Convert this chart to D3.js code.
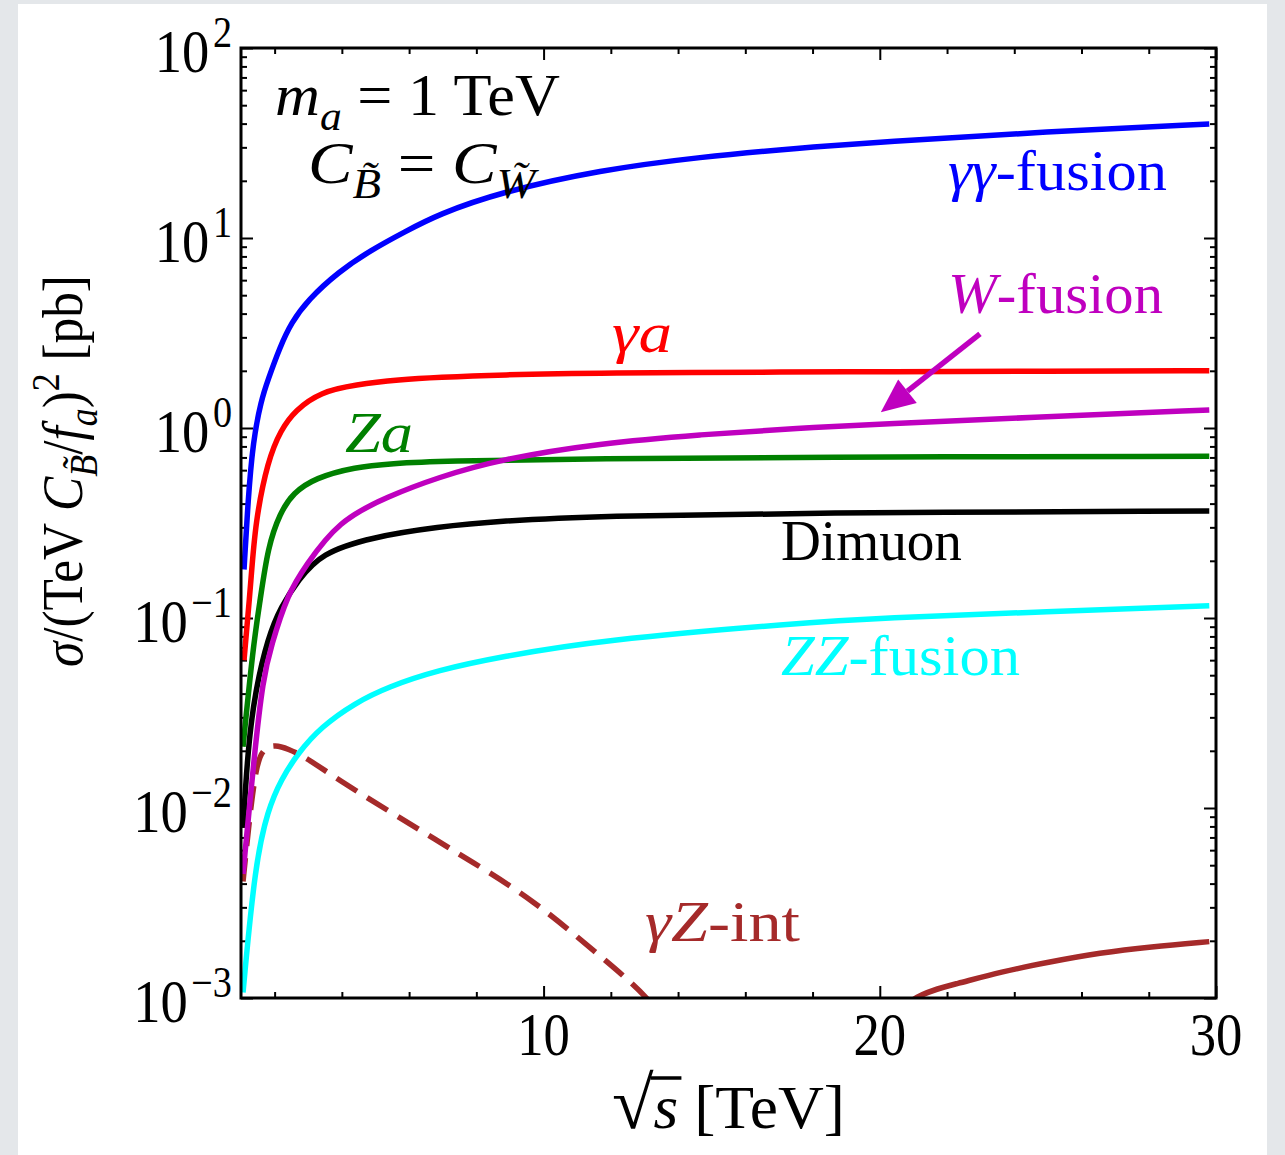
<!DOCTYPE html>
<html>
<head>
<meta charset="utf-8">
<script src="https://cdn.jsdelivr.net/npm/d3@7"></script>
<style>
body { margin: 0; background: #e4e7ea; }
svg { display: block; font-family: "Liberation Serif", "DejaVu Serif", serif; }
</style>
</head>
<body>
<svg id="chart" width="1285" height="1155"></svg>
<script>
// values, sqrt(s) in TeV and sigma in pb
var ggX = [1.09, 1.21, 1.36, 1.6, 1.8, 2.16, 2.49, 2.99, 3.89, 4.87, 5.88, 6.86, 8.7, 11.68, 14.65, 17.63, 20, 25, 29.8];
var ggY = [0.18, 0.42, 0.86, 1.4, 1.79, 2.67, 3.57, 4.72, 6.62, 8.65, 10.8, 13.3, 17.4, 22.8, 26.7, 29.8, 32.0, 36.3, 39.8];

var gaX = [1.09, 1.3, 1.42, 1.8, 2.19, 2.61, 3.38, 4.39, 5.73, 6.86, 8.7, 11.68, 17.63, 20, 25, 29.8];
var gaY = [0.06, 0.158, 0.316, 0.68, 0.98, 1.24, 1.55, 1.69, 1.80, 1.85, 1.905, 1.95, 1.97, 1.98, 1.99, 2.0];

var zaX = [1.06, 1.36, 1.57, 1.8, 2.16, 2.55, 3.2, 4.39, 5.5, 6.86, 11.68, 17.63, 29.8];
var zaY = [0.021, 0.071, 0.124, 0.237, 0.357, 0.455, 0.546, 0.624, 0.65, 0.67, 0.69, 0.703, 0.71];

var wX = [1.06, 1.42, 1.65, 1.89, 2.4, 2.9, 3.89, 5.37, 6.86, 8.7, 11.68, 14.65, 17.63, 20, 25, 29.8];
var wY = [0.0045, 0.021, 0.047, 0.071, 0.135, 0.186, 0.324, 0.437, 0.55, 0.684, 0.832, 0.923, 1.0, 1.047, 1.148, 1.245];

var dimuX = [1.06, 1.21, 1.42, 1.8, 2.19, 2.7, 3.38, 4.87, 6.86, 8.7, 11.68, 17.63, 29.8];
var dimuY = [0.0079, 0.021, 0.041, 0.079, 0.115, 0.158, 0.219, 0.266, 0.302, 0.324, 0.345, 0.357, 0.366];

var zzX = [1.06, 1.42, 1.8, 2.19, 2.7, 3.38, 4.39, 5.37, 6.86, 8.7, 11.68, 17.63, 20, 25, 29.8];
var zzY = [0.00107, 0.0051, 0.0098, 0.0141, 0.0195, 0.0267, 0.0357, 0.0434, 0.0532, 0.0624, 0.0766, 0.0942, 0.1, 0.108, 0.116];

// gamma-Z interference: negative part (dashed), positive part (solid)
var gzNegX = [1.06, 1.21, 1.45, 1.7, 2.01, 2.4, 2.9, 3.89, 5.37, 6.86, 7.72, 9.69, 11.68, 13.17, 14.0];
var gzNegY = [0.0041, 0.0075, 0.0174, 0.0207, 0.0215, 0.0205, 0.0186, 0.0141, 0.0097, 0.0067, 0.0054, 0.0033, 0.00166, 0.001, 0.0006];
var gzPosX = [20.5, 20.8, 22.39, 23.58, 25.06, 26.55, 28.04, 29.8];
var gzPosY = [0.0007, 0.00102, 0.0012, 0.00137, 0.00155, 0.00173, 0.00186, 0.00198];

var xMajor = [10, 20, 30];
var xMinor = [2, 4, 6, 8, 12, 14, 16, 18, 22, 24, 26, 28];
var yExp = [-3, -2, -1, 0, 1, 2];

var svg = d3.select("#chart");
var W = 1285, H = 1155;
var pL = 241, pR = 1216, pT = 48, pB = 998;

svg.append("rect").attr("width", W).attr("height", H).attr("fill", "#e4e7ea");
svg.append("rect").attr("x", 18).attr("y", 4).attr("width", 1249).attr("height", H).attr("fill", "#fff");

var x = d3.scaleLinear().domain([1, 30]).range([pL, pR]);
var y = d3.scaleLog().domain([1e-3, 1e2]).range([pB, pT]);

// text helper: parts are pieces with italic / sub / sup, fitted to a width
function rich(parent, px, py, parts, o) {
  var g = parent.append("g");
  var t = g.append("text").attr("font-size", o.size).attr("fill", o.color || "#000");
  var shift = 0;
  parts.forEach(function(p) {
    var s = t.append("tspan").text(p.t);
    var target = p.sub ? o.size * 0.25 : p.sup ? -o.size * 0.4 : 0;
    s.attr("dy", target - shift);
    shift = target;
    if (p.sub || p.sup) s.attr("font-size", o.size * 0.7);
    if (p.fs) s.attr("font-size", p.fs);
    if (p.it) s.attr("font-style", "italic");
    if (p.dx) s.attr("dx", p.dx);
  });
  var w = t.node().getBBox().width;
  var k = o.width ? o.width / w : (o.k || 1);
  var off = o.anchor == "middle" ? -w * k / 2 : o.anchor == "end" ? -w * k : 0;
  if (o.rotate) {
    g.attr("transform", "translate(" + px + "," + py + ") rotate(-90) translate(" + off + ",0) scale(" + k + ",1)");
  } else {
    g.attr("transform", "translate(" + (px + off) + "," + py + ") scale(" + k + ",1)");
  }
  return g;
}

// ticks, all pointing inwards
var yMinor = [];
yExp.slice(0, -1).forEach(function(e) {
  for (var m = 2; m <= 9; m++) yMinor.push(m * Math.pow(10, e));
});
var yMajor = yExp.map(function(e) { return Math.pow(10, e); });

function tickAxis(axis, pos, vals, len) {
  var g = svg.append("g")
    .attr("transform", pos)
    .call(axis.tickValues(vals).tickSize(-len).tickFormat(""));
  g.select(".domain").remove();
  g.selectAll("line").attr("stroke", "#000").attr("stroke-width", 2);
}
tickAxis(d3.axisBottom(x), "translate(0," + pB + ")", xMinor, 6);
tickAxis(d3.axisBottom(x), "translate(0," + pB + ")", xMajor, 12);
tickAxis(d3.axisTop(x), "translate(0," + pT + ")", xMinor, 6);
tickAxis(d3.axisTop(x), "translate(0," + pT + ")", xMajor, 12);
tickAxis(d3.axisLeft(y), "translate(" + pL + ",0)", yMinor, 6);
tickAxis(d3.axisLeft(y), "translate(" + pL + ",0)", yMajor, 12);
tickAxis(d3.axisRight(y), "translate(" + pR + ",0)", yMinor, 6);
tickAxis(d3.axisRight(y), "translate(" + pR + ",0)", yMajor, 12);

// curves
svg.append("clipPath").attr("id", "plot")
  .append("rect").attr("x", pL).attr("y", pT)
  .attr("width", pR - pL).attr("height", pB - pT);

var line = d3.line()
  .x(function(d) { return x(d[0]); })
  .y(function(d) { return y(d[1]); })
  .curve(d3.curveBasis);

var curves = [
  { xs: ggX, ys: ggY, color: "#0000ff" },
  { xs: gaX, ys: gaY, color: "#ff0000" },
  { xs: zaX, ys: zaY, color: "#008000" },
  { xs: dimuX, ys: dimuY, color: "#000000" },
  { xs: zzX, ys: zzY, color: "#00ffff" },
  { xs: gzPosX, ys: gzPosY, color: "#a52a2a" },
  { xs: gzNegX, ys: gzNegY, color: "#a52a2a", dash: "24,12" },
  { xs: wX, ys: wY, color: "#bf00bf" }
];

var plot = svg.append("g").attr("clip-path", "url(#plot)");
curves.forEach(function(c) {
  plot.append("path")
    .datum(d3.zip(c.xs, c.ys))
    .attr("d", line)
    .attr("fill", "none")
    .attr("stroke", c.color)
    .attr("stroke-width", 5.5)
    .attr("stroke-dasharray", c.dash || null);
});

// frame
svg.append("rect").attr("x", pL).attr("y", pT)
  .attr("width", pR - pL).attr("height", pB - pT)
  .attr("fill", "none").attr("stroke", "#000").attr("stroke-width", 3);

// arrow to the W-fusion curve
var a0 = [x(22.98), y(3.13)], a1 = [x(20.03), y(1.21)];
var ang = Math.atan2(a1[1] - a0[1], a1[0] - a0[0]);
var hl = 34, hw = 15;
var base = [a1[0] - hl * Math.cos(ang), a1[1] - hl * Math.sin(ang)];
svg.append("line")
  .attr("x1", a0[0]).attr("y1", a0[1]).attr("x2", base[0]).attr("y2", base[1])
  .attr("stroke", "#bf00bf").attr("stroke-width", 5.5);
svg.append("path")
  .attr("d", "M" + a1[0] + "," + a1[1] +
    "L" + (base[0] - hw * Math.sin(ang)) + "," + (base[1] + hw * Math.cos(ang)) +
    "L" + (base[0] + hw * Math.sin(ang)) + "," + (base[1] - hw * Math.cos(ang)) + "Z")
  .attr("fill", "#bf00bf");

// tick labels
xMajor.forEach(function(v) {
  rich(svg, x(v), 1055, [{ t: String(v) }], { size: 62, k: 0.85, anchor: "middle" });
});
yExp.forEach(function(e) {
  var sup = e < 0 ? "\u2212" + (-e) : String(e);
  rich(svg, 232, y(Math.pow(10, e)) + 24,
    [{ t: "10" }, { t: sup, sup: true, dx: 4 }],
    { size: 62, k: 0.88, anchor: "end" });
});

// axis titles
rich(svg, 82, 471, [
  { t: "\u03c3", it: true }, { t: "/(TeV " }, { t: "C", it: true }, { t: "B\u0303", it: true, sub: true },
  { t: "/" }, { t: "f", it: true }, { t: "a", it: true, sub: true },
  { t: ")" }, { t: "2", sup: true }, { t: " [pb]" }
], { size: 58, width: 392, anchor: "middle", rotate: true });

var xt = rich(svg, 612, 1128, [{ t: "\u221a", fs: 74 }, { t: "s", it: true }, { t: " [TeV]" }],
  { size: 62, width: 233 });
// vinculum of the square root over s
var tn = xt.select("text").node();
var e0 = tn.getExtentOfChar(0), e1 = tn.getExtentOfChar(1);
xt.append("line")
  .attr("x1", e0.x + e0.width - 3).attr("x2", e1.x + e1.width + 3)
  .attr("y1", -50).attr("y2", -50)
  .attr("stroke", "#000").attr("stroke-width", 3.5);

// annotations
rich(svg, 275, 115, [
  { t: "m", it: true }, { t: "a", it: true, sub: true }, { t: " = 1 TeV" }
], { size: 60, width: 285 });
rich(svg, 308, 183, [
  { t: "C", it: true }, { t: "B\u0303", it: true, sub: true }, { t: " = " },
  { t: "C", it: true }, { t: "W\u0303", it: true, sub: true }
], { size: 60, width: 232 });

// curve labels
rich(svg, 948, 190, [{ t: "\u03b3\u03b3", it: true }, { t: "-fusion" }], { size: 58, width: 219, color: "#0000ff" });
rich(svg, 948, 313, [{ t: "W", it: true }, { t: "-fusion" }], { size: 58, width: 215, color: "#bf00bf" });
rich(svg, 612, 352, [{ t: "\u03b3a", it: true }], { size: 58, width: 60, color: "#ff0000" });
rich(svg, 345, 452, [{ t: "Za", it: true }], { size: 58, width: 68, color: "#008000" });
rich(svg, 781, 560, [{ t: "Dimuon" }], { size: 58, width: 181 });
rich(svg, 781, 675, [{ t: "ZZ", it: true }, { t: "-fusion" }], { size: 58, width: 239, color: "#00ffff" });
rich(svg, 645, 941, [{ t: "\u03b3Z", it: true }, { t: "-int" }], { size: 58, width: 155, color: "#a52a2a" });
</script>
</body>
</html>
